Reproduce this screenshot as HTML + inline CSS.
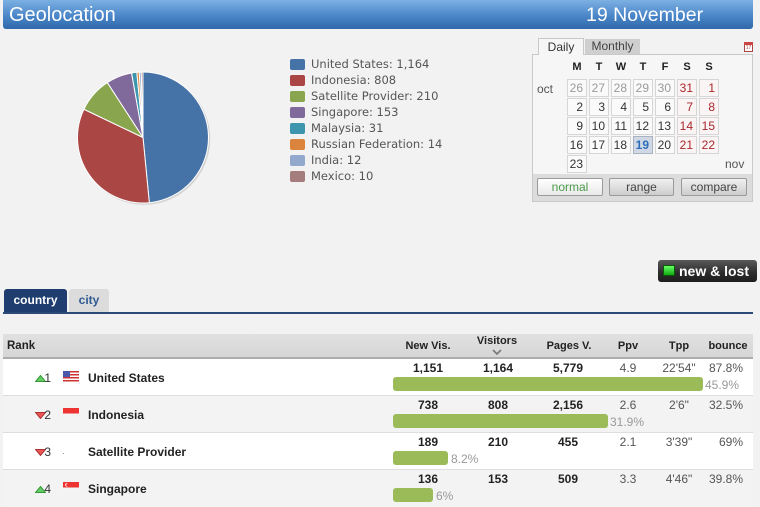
<!DOCTYPE html>
<html><head><meta charset="utf-8">
<style>
*{margin:0;padding:0;box-sizing:border-box}
body{width:760px;height:498px;overflow:hidden;background:#f2f2f2;font-family:"Liberation Sans",Arial,sans-serif;position:relative;color:#222}
.a{position:absolute}
.hdr{left:3px;top:0;width:750px;height:29px;background:linear-gradient(#7cb0e3,#4a86c8 55%,#2f68ab);border-radius:0 0 3px 3px}
.ttl{color:#fff;font-size:20px;line-height:31px;white-space:nowrap}
.lg{left:290px;width:15px;height:11px;border-radius:2px}
.lt{left:311px;font-family:"DejaVu Sans","Liberation Sans",sans-serif;font-size:11.5px;color:#555;line-height:14px;white-space:nowrap}
.c{width:20px;height:18px;border:1px solid #d6d6d6;background:#fafafa;text-align:right;padding-right:3px;font-size:12px;line-height:16px;color:#333}
.g{color:#9a9a9a}
.w{color:#a8282c;background:#fbf4f4}
.dh{width:20px;text-align:center;font-size:11px;font-weight:bold;line-height:13px;top:61px;color:#222}
.btn{top:178px;height:18px;border:1px solid #9a9a9a;border-radius:2px;font-size:12px;line-height:16px;text-align:center;color:#444;background:linear-gradient(#f0f0f0,#cdcdcd)}
.th{font-size:11px;font-weight:bold;line-height:13px;text-align:center;width:80px;color:#222;white-space:nowrap}
.n{font-size:12px;font-weight:bold;line-height:14px;text-align:center;width:80px;white-space:nowrap;color:#222}
.v{font-size:12px;line-height:14px;text-align:center;width:60px;white-space:nowrap;color:#555}
.r{font-size:12px;line-height:14px;text-align:right;width:60px;white-space:nowrap;color:#555}
.bar{left:393px;height:14px;background:#9bbb59;border-radius:3px}
.pc{font-size:12px;line-height:14px;color:#999;white-space:nowrap}
.nm{left:88px;font-size:12px;font-weight:bold;line-height:14px;white-space:nowrap;color:#222}
.rk{font-size:12px;line-height:14px;color:#333;width:20px;text-align:right}
</style></head><body>

<div class="a hdr"></div>
<div class="a ttl" style="left:9px;top:0">Geolocation</div>
<div class="a ttl" style="left:586px;top:0;font-size:19.5px">19 November</div>

<svg class="a" style="left:0;top:0" width="300" height="250" viewBox="0 0 300 250">
<circle cx="144.5" cy="139" r="66" fill="#000" opacity="0.06"/>
<circle cx="144" cy="138.5" r="66" fill="#000" opacity="0.08"/>
<g stroke="#fff" stroke-width="1" stroke-linejoin="round">
<path d="M143,137.5 L143,72 A65.5,65.5 0 0,1 149.33,202.69 Z" fill="#4572a7"/>
<path d="M143,137.5 L149.33,202.69 A65.5,65.5 0 0,1 83.91,109.25 Z" fill="#aa4643"/>
<path d="M143,137.5 L83.91,109.25 A65.5,65.5 0 0,1 107.35,82.55 Z" fill="#89a54e"/>
<path d="M143,137.5 L107.35,82.55 A65.5,65.5 0 0,1 131.58,73.0 Z" fill="#80699b"/>
<path d="M143,137.5 L131.58,73.0 A65.5,65.5 0 0,1 136.84,72.29 Z" fill="#3d96ae"/>
<path d="M143,137.5 L136.84,72.29 A65.5,65.5 0 0,1 139.23,72.11 Z" fill="#db843d"/>
<path d="M143,137.5 L139.23,72.11 A65.5,65.5 0 0,1 141.28,72.02 Z" fill="#92a8cd"/>
<path d="M143,137.5 L141.28,72.02 A65.5,65.5 0 0,1 143,72 Z" fill="#a47d7c"/>
</g>
</svg>

<div class="a lg" style="top:59px;background:#4572a7"></div><div class="a lt" style="top:57px">United States: 1,164</div>
<div class="a lg" style="top:75px;background:#aa4643"></div><div class="a lt" style="top:73px">Indonesia: 808</div>
<div class="a lg" style="top:91px;background:#89a54e"></div><div class="a lt" style="top:89px">Satellite Provider: 210</div>
<div class="a lg" style="top:107px;background:#80699b"></div><div class="a lt" style="top:105px">Singapore: 153</div>
<div class="a lg" style="top:123px;background:#3d96ae"></div><div class="a lt" style="top:121px">Malaysia: 31</div>
<div class="a lg" style="top:139px;background:#db843d"></div><div class="a lt" style="top:137px">Russian Federation: 14</div>
<div class="a lg" style="top:155px;background:#92a8cd"></div><div class="a lt" style="top:153px">India: 12</div>
<div class="a lg" style="top:171px;background:#a47d7c"></div><div class="a lt" style="top:169px">Mexico: 10</div>

<!-- calendar -->
<div class="a" style="left:532px;top:54px;width:221px;height:148px;border:1px solid #c9c9c9;background:#f6f6f6"></div>
<div class="a" style="left:538px;top:38px;width:46px;height:17px;border:1px solid #c9c9c9;border-bottom:none;background:#f6f6f6;font-size:12px;line-height:16px;text-align:center;color:#333">Daily</div>
<div class="a" style="left:585px;top:39px;width:55px;height:15px;background:#cfcfcf;font-size:12px;line-height:15px;text-align:center;color:#444">Monthly</div>
<div class="a" style="left:744px;top:42px;width:9px;height:10px;border:1px solid #a44;background:#fff"></div>
<div class="a" style="left:744px;top:42px;width:9px;height:3px;background:#c44"></div>
<div class="a" style="left:745px;top:45px;width:7px;font-size:5px;line-height:6px;text-align:center;color:#a44">17</div>

<div class="a dh" style="left:567px">M</div>
<div class="a dh" style="left:589px">T</div>
<div class="a dh" style="left:611px">W</div>
<div class="a dh" style="left:633px">T</div>
<div class="a dh" style="left:655px">F</div>
<div class="a dh" style="left:677px">S</div>
<div class="a dh" style="left:699px">S</div>
<div class="a" style="left:537px;top:82px;font-size:12px;line-height:14px;color:#555">oct</div>

<div class="a c g" style="left:567px;top:79px">26</div>
<div class="a c g" style="left:589px;top:79px">27</div>
<div class="a c g" style="left:611px;top:79px">28</div>
<div class="a c g" style="left:633px;top:79px">29</div>
<div class="a c g" style="left:655px;top:79px">30</div>
<div class="a c w" style="left:677px;top:79px">31</div>
<div class="a c w" style="left:699px;top:79px">1</div>

<div class="a c" style="left:567px;top:98px">2</div>
<div class="a c" style="left:589px;top:98px">3</div>
<div class="a c" style="left:611px;top:98px">4</div>
<div class="a c" style="left:633px;top:98px">5</div>
<div class="a c" style="left:655px;top:98px">6</div>
<div class="a c w" style="left:677px;top:98px">7</div>
<div class="a c w" style="left:699px;top:98px">8</div>

<div class="a c" style="left:567px;top:117px">9</div>
<div class="a c" style="left:589px;top:117px">10</div>
<div class="a c" style="left:611px;top:117px">11</div>
<div class="a c" style="left:633px;top:117px">12</div>
<div class="a c" style="left:655px;top:117px">13</div>
<div class="a c w" style="left:677px;top:117px">14</div>
<div class="a c w" style="left:699px;top:117px">15</div>

<div class="a c" style="left:567px;top:136px">16</div>
<div class="a c" style="left:589px;top:136px">17</div>
<div class="a c" style="left:611px;top:136px">18</div>
<div class="a c" style="left:633px;top:136px;background:#cfd8e4;border-color:#a9b2bf;color:#2d6fba;font-weight:bold">19</div>
<div class="a c" style="left:655px;top:136px">20</div>
<div class="a c w" style="left:677px;top:136px">21</div>
<div class="a c w" style="left:699px;top:136px">22</div>

<div class="a c" style="left:567px;top:155px">23</div>
<div class="a" style="left:725px;top:157px;font-size:12px;line-height:14px;color:#555">nov</div>

<div class="a" style="left:533px;top:174px;width:219px;height:27px;background:#dcdcdc"></div>
<div class="a btn" style="left:537px;width:66px;background:linear-gradient(#ffffff,#e9e9e9);color:#4a9a4a">normal</div>
<div class="a btn" style="left:609px;width:65px">range</div>
<div class="a btn" style="left:681px;width:66px">compare</div>

<!-- new & lost -->
<div class="a" style="left:658px;top:260px;width:99px;height:22px;border-radius:3px;background:linear-gradient(#5a5a5a,#2a2a2a 60%,#1e1e1e)"></div>
<div class="a" style="left:663px;top:265px;width:12px;height:11px;background:linear-gradient(#6f6,#1a1);border:1px solid #0a5a0a"></div>
<div class="a" style="left:679px;top:263px;font-size:14px;font-weight:bold;line-height:16px;color:#fff;white-space:nowrap">new &amp; lost</div>

<!-- tabs -->
<div class="a" style="left:4px;top:289px;width:63px;height:24px;background:#1f3d6e;border-radius:3px 3px 0 0;color:#fff;font-size:12px;font-weight:bold;line-height:22px;text-align:center">country</div>
<div class="a" style="left:69px;top:289px;width:40px;height:23px;background:#dcdcdc;border-radius:3px 3px 0 0;color:#2f5a93;font-size:12px;font-weight:bold;line-height:22px;text-align:center">city</div>
<div class="a" style="left:3px;top:312px;width:750px;height:2px;background:#2b4a7a"></div>

<!-- table header -->
<div class="a" style="left:3px;top:334px;width:750px;height:23px;background:linear-gradient(#e1e1e1,#d6d6d6)"></div>
<div class="a" style="left:3px;top:357px;width:750px;height:2px;background:#adadad"></div>
<div class="a" style="left:7px;top:340px;font-size:11.5px;font-weight:bold;line-height:13px;color:#222">Rank</div>
<div class="a th" style="left:388px;top:340px">New Vis.</div>
<div class="a th" style="left:457px;top:335px">Visitors</div>
<svg class="a" style="left:492px;top:349px" width="10" height="6"><polyline points="1,1 5,5 9,1" fill="none" stroke="#777" stroke-width="1.6"/></svg>
<div class="a th" style="left:529px;top:340px">Pages V.</div>
<div class="a th" style="left:588px;top:340px">Ppv</div>
<div class="a th" style="left:639px;top:340px">Tpp</div>
<div class="a th" style="left:688px;top:340px">bounce</div>

<!-- rows -->
<div class="a" style="left:3px;top:359px;width:750px;height:37px;background:#fff;border-bottom:1px solid #dedede"></div>
<div class="a" style="left:3px;top:396px;width:750px;height:37px;background:#f3f3f3;border-bottom:1px solid #dedede"></div>
<div class="a" style="left:3px;top:433px;width:750px;height:37px;background:#fff;border-bottom:1px solid #dedede"></div>
<div class="a" style="left:3px;top:470px;width:750px;height:37px;background:#f3f3f3"></div>

<!-- row 1 -->
<svg class="a" style="left:35px;top:375px" width="11" height="7"><polygon points="5.5,0.5 10.5,6.5 0.5,6.5" fill="#6c6" stroke="#393"/></svg>
<div class="a rk" style="left:31px;top:371px">1</div>
<svg class="a" style="left:63px;top:371px" width="16" height="11"><rect x="0" y="0" width="16" height="11" fill="#fff"/><rect x="0" y="0" width="16" height="1.5" fill="#c33"/><rect x="0" y="3" width="16" height="1.5" fill="#c33"/><rect x="0" y="6" width="16" height="1.5" fill="#c33"/><rect x="0" y="9" width="16" height="1.5" fill="#c33"/><rect x="0" y="0" width="7" height="6" fill="#4a5aa8"/></svg>
<div class="a nm" style="top:371px">United States</div>
<div class="a n" style="left:388px;top:361px">1,151</div>
<div class="a n" style="left:458px;top:361px">1,164</div>
<div class="a n" style="left:528px;top:361px">5,779</div>
<div class="a v" style="left:598px;top:361px">4.9</div>
<div class="a v" style="left:649px;top:361px">22'54"</div>
<div class="a r" style="left:683px;top:361px">87.8%</div>
<div class="a bar" style="top:377px;width:310px"></div>
<div class="a pc" style="left:705px;top:378px">45.9%</div>

<!-- row 2 -->
<svg class="a" style="left:35px;top:412px" width="11" height="7"><polygon points="0.5,0.5 10.5,0.5 5.5,6.5" fill="#e55" stroke="#a33"/></svg>
<div class="a rk" style="left:31px;top:408px">2</div>
<svg class="a" style="left:63px;top:408px" width="16" height="11"><rect x="0" y="0" width="16" height="11" fill="#f4f4f4"/><rect x="0" y="0" width="16" height="5.5" fill="#e33"/></svg>
<div class="a nm" style="top:408px">Indonesia</div>
<div class="a n" style="left:388px;top:398px">738</div>
<div class="a n" style="left:458px;top:398px">808</div>
<div class="a n" style="left:528px;top:398px">2,156</div>
<div class="a v" style="left:598px;top:398px">2.6</div>
<div class="a v" style="left:649px;top:398px">2'6"</div>
<div class="a r" style="left:683px;top:398px">32.5%</div>
<div class="a bar" style="top:414px;width:215px"></div>
<div class="a pc" style="left:610px;top:415px">31.9%</div>

<!-- row 3 -->
<svg class="a" style="left:35px;top:449px" width="11" height="7"><polygon points="0.5,0.5 10.5,0.5 5.5,6.5" fill="#e55" stroke="#a33"/></svg>
<div class="a rk" style="left:31px;top:445px">3</div>
<div class="a" style="left:63px;top:453px;width:1px;height:1px;background:#999"></div>
<div class="a nm" style="top:445px">Satellite Provider</div>
<div class="a n" style="left:388px;top:435px">189</div>
<div class="a n" style="left:458px;top:435px">210</div>
<div class="a n" style="left:528px;top:435px">455</div>
<div class="a v" style="left:598px;top:435px">2.1</div>
<div class="a v" style="left:649px;top:435px">3'39"</div>
<div class="a r" style="left:683px;top:435px">69%</div>
<div class="a bar" style="top:451px;width:55px"></div>
<div class="a pc" style="left:451px;top:452px">8.2%</div>

<!-- row 4 -->
<svg class="a" style="left:35px;top:486px" width="11" height="7"><polygon points="5.5,0.5 10.5,6.5 0.5,6.5" fill="#6c6" stroke="#393"/></svg>
<div class="a rk" style="left:31px;top:482px">4</div>
<svg class="a" style="left:63px;top:482px" width="16" height="11"><rect x="0" y="0" width="16" height="11" fill="#f4f4f4"/><rect x="0" y="0" width="16" height="5.5" fill="#e33"/><circle cx="4" cy="2.8" r="1.8" fill="#fff"/><circle cx="4.8" cy="2.8" r="1.6" fill="#e33"/></svg>
<div class="a nm" style="top:482px">Singapore</div>
<div class="a n" style="left:388px;top:472px">136</div>
<div class="a n" style="left:458px;top:472px">153</div>
<div class="a n" style="left:528px;top:472px">509</div>
<div class="a v" style="left:598px;top:472px">3.3</div>
<div class="a v" style="left:649px;top:472px">4'46"</div>
<div class="a r" style="left:683px;top:472px">39.8%</div>
<div class="a bar" style="top:488px;width:40px"></div>
<div class="a pc" style="left:436px;top:489px">6%</div>

</body></html>
